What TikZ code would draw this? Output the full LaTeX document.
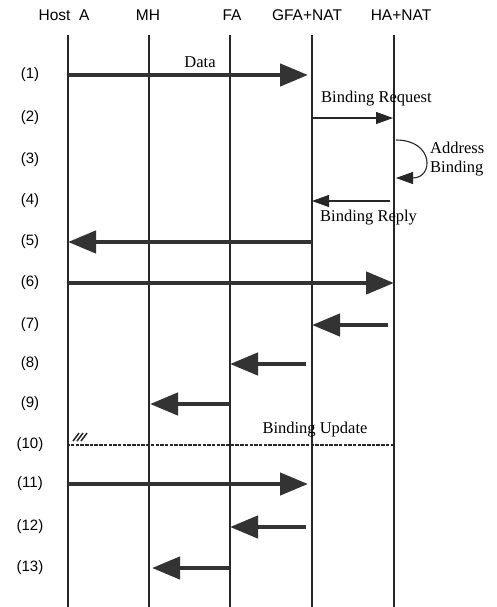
\documentclass[tikz,border=0pt]{standalone}
\usepackage{fontspec}
\setmainfont{Liberation Serif}
\setsansfont{Liberation Sans}
\usetikzlibrary{arrows.meta}

\tikzset{
  lifeline/.style={line width=1.2pt, black!85},
  bigmsg/.style={line width=4.5pt, black!80, -{Triangle[length=28pt,width=22pt]}},
  smallmsg/.style={line width=1.1pt, black!85, -{Triangle[length=17pt,width=12pt]}},
  entity/.style={font=\sffamily\fontsize{15.5}{18}\selectfont, inner sep=0pt},
  rowlbl/.style={font=\sffamily\fontsize{15}{18}\selectfont, inner sep=0pt},
  msglbl/.style={font=\fontsize{16.5}{19}\selectfont, inner sep=0pt}
}

\begin{document}
\begin{tikzpicture}[x=1pt, y=-1pt]
	\useasboundingbox (0,0) rectangle (497,607);
	
	% entities and their lifelines
	\node[entity] (hostA) at (64,15) {Host\ \ A};
	\node[entity] (mh) at (148,15) {MH};
	\node[entity] (fa) at (232,15) {FA};
	\node[entity] (gfa) at (307,15) {GFA+NAT};
	\node[entity] (ha) at (401,15) {HA+NAT};
	\foreach \k/\x in {1/68, 2/149, 3/230, 4/312, 5/394} {
		\coordinate (top\k) at (\x,35);
		\coordinate (bot\k) at (\x,607);
		\draw[lifeline] (top\k) -- (bot\k);
	}
	
	% step numbers, and one point per lifeline on each row
	\foreach \r/\y in {1/75, 2/118, 3/160, 4/201, 5/242, 6/283, 7/325,
	                   8/364, 9/404, 10/445, 11/484, 12/527, 13/568} {
		\node[rowlbl] (row\r) at (30,\y) {(\r)};
		\foreach \k/\x in {1/68, 2/149, 3/230, 4/312, 5/394}
			\coordinate (p\r-\k) at (\x,\y);
	}
	
	% (1) data towards the home network
	\draw[bigmsg] (p1-1) -- ([xshift=-4pt]p1-4);
	\node[msglbl] (data) at (200,62) {Data};
	
	% (2)-(4) binding at the home agent
	\draw[smallmsg] (p2-4) -- ([xshift=-1pt]p2-5);
	\node[msglbl, anchor=west] (breq) at (321,99) {Binding Request};
	\coordinate (loopA) at (396,140);
	\coordinate (loopB) at (396,178);
	\draw[smallmsg] (loopA) .. controls (434,140) and (434,178) .. (loopB);
	\node[msglbl, anchor=west, align=left] (abind) at (430,159) {Address\\Binding};
	\draw[smallmsg] ([xshift=-4pt]p4-5) -- (p4-4);
	\node[msglbl, anchor=west] (brep) at (320,218) {Binding Reply};
	
	% (5)-(9) data relayed back down to the mobile host
	\draw[bigmsg] (p5-4) -- (p5-1);
	\draw[bigmsg] (p6-1) -- (p6-5);
	\draw[bigmsg] ([xshift=-6pt]p7-5) -- (p7-4);
	\draw[bigmsg] ([xshift=-6pt]p8-4) -- (p8-3);
	\draw[bigmsg] (p9-3) -- ([xshift=1pt]p9-2);
	
	% (10) binding update, dashed
	\draw[line width=1.3pt, black!85, dash pattern=on 3.5pt off 1.2pt] (p10-5) -- (p10-1);
	\foreach \d in {5,9,13}
		\draw[line width=1.5pt, black!85] ([xshift=\d pt, yshift=4pt]p10-1) -- ++(6,-8);
	\node[msglbl] (bupd) at (315,430) {Binding Update};
	
	% (11)-(13) data along the new path
	\draw[bigmsg] (p11-1) -- ([xshift=-4pt]p11-4);
	\draw[bigmsg] ([xshift=-6pt]p12-4) -- (p12-3);
	\draw[bigmsg] (p13-3) -- ([xshift=3pt]p13-2);
\end{tikzpicture}
\end{document}
